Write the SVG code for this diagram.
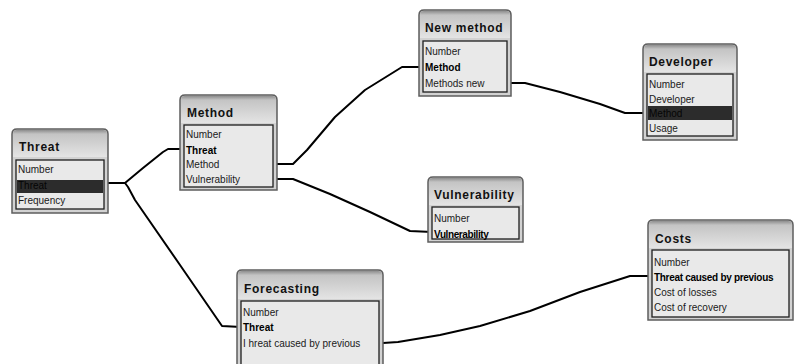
<svg xmlns="http://www.w3.org/2000/svg" width="794" height="364" viewBox="0 0 794 364">
<defs>
<linearGradient id="hg" x1="0" y1="0" x2="0" y2="1">
<stop offset="0" stop-color="#8e8e8e"/>
<stop offset="0.15" stop-color="#c4c4c4"/>
<stop offset="1" stop-color="#e4e4e4"/>
</linearGradient>
<style>
.frame{fill:#d2d2d2;stroke:#5e5e5e;stroke-width:1.5}
.head{fill:url(#hg)}
.title{font-family:"Liberation Sans",Arial,sans-serif;font-weight:bold;font-size:12px;letter-spacing:0.7px;fill:#111}
.list{fill:#e9e9e9;stroke:#1e1e1e;stroke-width:1.3}
.list2{fill:none;stroke:#f4f4f4;stroke-width:1}
.row{font-family:"Liberation Sans",Arial,sans-serif;font-size:10px;fill:#1a1a1a}
.b{font-weight:bold;fill:#000}
.hl{fill:#2c2c2c}
.dark{fill:#050505}
.conn path{fill:none;stroke:#000;stroke-width:2;stroke-linejoin:round}
</style>
</defs>
<rect width="794" height="364" fill="#fff"/>

<g class="conn" id="connectors">
<path d="M108,183 L125,183 L143,168 L163,152 L168,149 L184,149"/>
<path d="M125,183 L128,187 L135,200 L180,265 L222,326 L241,327"/>
<path d="M277,164 L293,164 L307,150 L335,117 L365,90 L402,67 L423,67"/>
<path d="M277,179 L293,179 L330,194 L370,212 L410,231 L432,232"/>
<path d="M511,83 L525,83 L560,92 L600,104 L625,113 L647,113"/>
<path d="M383,343 L398,342 L440,335 L480,326 L530,311 L580,292 L630,276 L652,276"/>
</g>

<g id="threat">
<path class="frame" d="M12,213 V134 Q12,129 17,129 H103 Q108,129 108,134 V213 Z"/>
<path class="head" d="M13,157 V134 Q13,130 17,130 H103 Q107,130 107,134 V157 Z"/>
<text class="title" x="19" y="151">Threat</text>
<rect class="list" x="16" y="160" width="88" height="49"/>
<rect class="hl" x="17" y="180" width="86" height="13"/>
<text class="row" x="18" y="173">Number</text>
<text class="row dark" x="18" y="189">Threat</text>
<text class="row" x="18" y="204">Frequency</text>
</g>

<g id="method">
<path class="frame" d="M180,190 V100 Q180,95 185,95 H272 Q277,95 277,100 V190 Z"/>
<path class="head" d="M181,123 V100 Q181,96 185,96 H272 Q276,96 276,100 V123 Z"/>
<text class="title" x="187" y="117">Method</text>
<rect class="list" x="184" y="125" width="89" height="62"/>
<text class="row" x="186" y="138">Number</text>
<text class="row b" x="186" y="154">Threat</text>
<text class="row" x="186" y="168">Method</text>
<text class="row" x="186" y="183">Vulnerability</text>
</g>

<g id="new-method">
<path class="frame" d="M419,96 V15 Q419,10 424,10 H506 Q511,10 511,15 V96 Z"/>
<path class="head" d="M420,38 V15 Q420,11 424,11 H506 Q510,11 510,15 V38 Z"/>
<text class="title" x="425" y="32">New method</text>
<rect class="list" x="423" y="41" width="84" height="51"/>
<text class="row" x="425" y="55">Number</text>
<text class="row b" x="425" y="71">Method</text>
<text class="row" x="425" y="87">Methods new</text>
</g>

<g id="developer">
<path class="frame" d="M643,140 V49 Q643,44 648,44 H732 Q737,44 737,49 V140 Z"/>
<path class="head" d="M644,72 V49 Q644,45 648,45 H732 Q736,45 736,49 V72 Z"/>
<text class="title" x="649" y="66">Developer</text>
<rect class="list" x="647" y="74" width="86" height="62"/>
<rect class="hl" x="648" y="106" width="84" height="14"/>
<text class="row" x="649" y="88">Number</text>
<text class="row" x="649" y="103">Developer</text>
<text class="row dark" x="649" y="117">Method</text>
<text class="row" x="649" y="132">Usage</text>
</g>

<g id="vulnerability">
<path class="frame" d="M428,242 V182 Q428,177 433,177 H518 Q523,177 523,182 V242 Z"/>
<path class="head" d="M429,205 V182 Q429,178 433,178 H518 Q522,178 522,182 V205 Z"/>
<text class="title" x="434" y="199">Vulnerability</text>
<rect class="list" x="432" y="207" width="87" height="32"/>
<text class="row" x="434" y="222">Number</text>
<text class="row b" x="434" y="238" letter-spacing="-0.4">Vulnerability</text>
</g>

<g id="costs">
<path class="frame" d="M648,320 V225 Q648,220 653,220 H788 Q793,220 793,225 V320 Z"/>
<path class="head" d="M649,248 V225 Q649,221 653,221 H788 Q792,221 792,225 V248 Z"/>
<text class="title" x="655" y="243">Costs</text>
<rect class="list" x="652" y="250" width="137" height="67"/>
<text class="row" x="654" y="266">Number</text>
<text class="row b" x="654" y="281" letter-spacing="-0.3">Threat caused by previous</text>
<text class="row" x="654" y="296">Cost of losses</text>
<text class="row" x="654" y="311">Cost of recovery</text>
</g>

<g id="forecasting">
<path class="frame" d="M237,366 V275 Q237,270 242,270 H378 Q383,270 383,275 V366 Z"/>
<path class="head" d="M238,299 V275 Q238,271 242,271 H378 Q382,271 382,275 V299 Z"/>
<text class="title" x="244" y="293">Forecasting</text>
<rect class="list" x="241" y="301" width="138" height="66"/>
<text class="row" x="243" y="316">Number</text>
<text class="row b" x="243" y="331">Threat</text>
<text class="row" x="243" y="347" font-size="10.8">I hreat caused by previous</text>
</g>
</svg>
